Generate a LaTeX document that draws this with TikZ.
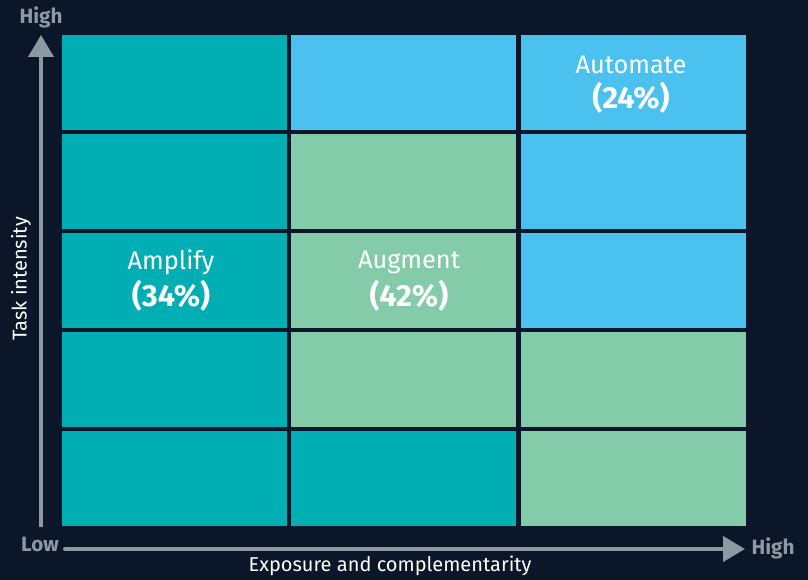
\documentclass[tikz,border=0pt]{standalone}
\usepackage{fontspec}
\setmainfont{Fira Sans}
\usetikzlibrary{arrows.meta}
\definecolor{bgc}{HTML}{0B1628}
\definecolor{tealc}{HTML}{00AEB3}
\definecolor{bluec}{HTML}{4BC1F0}
\definecolor{greenc}{HTML}{84CBAA}
\definecolor{axisc}{HTML}{8C98A2}
\begin{document}
\begin{tikzpicture}[x=0.75pt,y=-0.75pt,
  cell/.style={draw=none,inner sep=0pt,minimum width=169pt,minimum height=71.3pt},
  axisline/.style={axisc,line width=3pt,-{Triangle[width=18.75pt,length=16.5pt]}},
  axlabel/.style={text=axisc,font=\fontsize{15.5}{18}\selectfont\bfseries,inner sep=0pt},
  title/.style={text=white,font=\fontsize{15}{18}\selectfont,inner sep=0pt},
  qname/.style={text=white,font=\fontsize{19}{22}\selectfont,inner sep=0pt},
  qpct/.style={text=white,font=\fontsize{23}{26}\selectfont\bfseries,inner sep=0pt}]
\fill[bgc] (0,0) rectangle (808,580);
\useasboundingbox (0,0) rectangle (808,580);
\foreach \r/\y/\ca/\cb/\cc in {1/82.55/tealc/bluec/bluec,2/181.65/tealc/greenc/bluec,3/280.75/tealc/greenc/bluec,4/379.85/tealc/greenc/greenc,5/478.95/tealc/tealc/greenc}{
  \node[cell,fill=\ca] (c\r a) at (174.5,\y) {};
  \node[cell,fill=\cb] (c\r b) at (403.75,\y) {};
  \node[cell,fill=\cc] (c\r c) at (633.25,\y) {};
}
% axes
\coordinate (vstart) at (41,527);
\coordinate (vend) at (41,35);
\coordinate (hstart) at (65,549);
\coordinate (hend) at (745,549);
\draw[axisline,line cap=butt] (vstart) -- (vend);
\draw[axisline,line cap=round] (hstart) -- (hend);
\node[axlabel] (hightop) at (41,17) {High};
\node[axlabel] (low) at (40,545) {Low};
\node[axlabel] (highright) at (773,548) {High};
\node[title,rotate=90] (yt) at (21,279) {Task intensity};
\node[title] (xt) at (390,566) {Exposure and complementarity};
% quadrant labels
\node[qname] (amp) at (171,262) {Amplify};
\node[qpct] (ampp) at (171,296) {(34\%)};
\node[qname] (aug) at (409,262) {Augment};
\node[qpct] (augp) at (409,296) {(42\%)};
\node[qname] (aut) at (631,65) {Automate};
\node[qpct] (autp) at (631,98) {(24\%)};
\end{tikzpicture}
\end{document}
